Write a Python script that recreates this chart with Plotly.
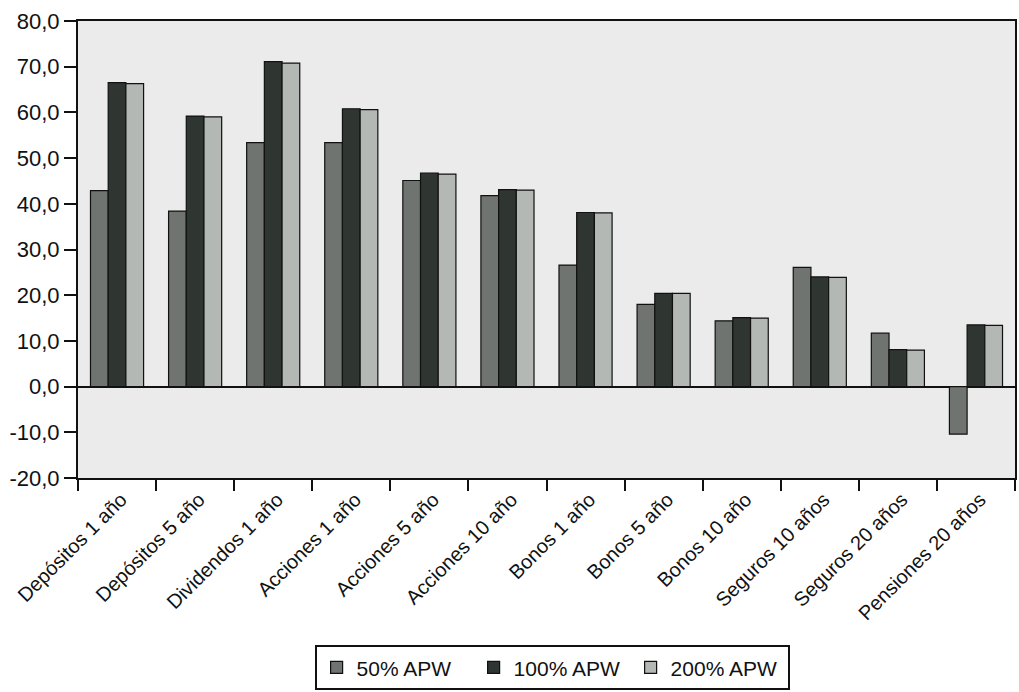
import plotly.graph_objects as go

# Product categories on the x axis
categories = [
    "Depósitos 1 año", "Depósitos 5 año", "Dividendos 1 año", "Acciones 1 año",
    "Acciones 5 año", "Acciones 10 año", "Bonos 1 año", "Bonos 5 año",
    "Bonos 10 año", "Seguros 10 años", "Seguros 20 años", "Pensiones 20 años",
]

# Values for each APW level
apw_50 = [42.9, 38.4, 53.4, 53.4, 45.1, 41.8, 26.6, 18.0, 14.4, 26.1, 11.7, -10.4]
apw_100 = [66.5, 59.2, 71.1, 60.8, 46.7, 43.1, 38.1, 20.4, 15.1, 24.0, 8.1, 13.5]
apw_200 = [66.3, 59.0, 70.8, 60.6, 46.5, 43.0, 38.0, 20.4, 15.0, 23.9, 8.0, 13.4]

# Y axis ticks, written with a plain hyphen and decimal comma
y_ticks = [-20, -10, 0, 10, 20, 30, 40, 50, 60, 70, 80]
y_tick_labels = ["-20,0", "-10,0", "0,0", "10,0", "20,0", "30,0",
                 "40,0", "50,0", "60,0", "70,0", "80,0"]

series = [
    ("50% APW", apw_50, "#6f7470"),
    ("100% APW", apw_100, "#2f3632"),
    ("200% APW", apw_200, "#b4b8b5"),
]

FONT = "Liberation Sans, Arial, sans-serif"
INK = "#111111"

fig = go.Figure()
for name, vals, color in series:
    fig.add_trace(go.Bar(
        name=name,
        x=categories,
        y=vals,
        marker=dict(color=color, line=dict(color=INK, width=1.2)),
    ))

fig.update_layout(
    width=1019,
    height=692,
    margin=dict(l=78, r=2, t=21, b=212),
    paper_bgcolor="white",
    plot_bgcolor="#ebebeb",
    barmode="group",
    bargap=0.32,
    bargroupgap=0,
    font=dict(family=FONT, color=INK),
    legend=dict(
        orientation="h",
        x=0.506, xanchor="center",
        y=-0.366, yanchor="top",
        bordercolor=INK, borderwidth=2,
        bgcolor="white",
        font=dict(size=21, family=FONT, color=INK),
        entrywidth=112,
        entrywidthmode="pixels",
        traceorder="normal",
    ),
)

fig.update_yaxes(
    range=[-20, 80],
    tickmode="array",
    tickvals=y_ticks,
    ticktext=y_tick_labels,
    ticks="outside",
    ticklen=12,
    tickwidth=2,
    tickcolor=INK,
    tickfont=dict(size=22, family=FONT, color=INK),
    showgrid=False,
    zeroline=True,
    zerolinecolor=INK,
    zerolinewidth=2,
    showline=True,
    linecolor=INK,
    linewidth=2,
    mirror=True,
)

fig.update_xaxes(
    tickangle=-45,
    tickson="boundaries",
    ticks="outside",
    ticklen=11,
    tickwidth=1.5,
    tickcolor=INK,
    tickfont=dict(size=20, family=FONT, color=INK),
    ticklabelshift=4,
    showgrid=False,
    showline=True,
    linecolor=INK,
    linewidth=2,
    mirror=True,
)

fig.write_html("out.html")
